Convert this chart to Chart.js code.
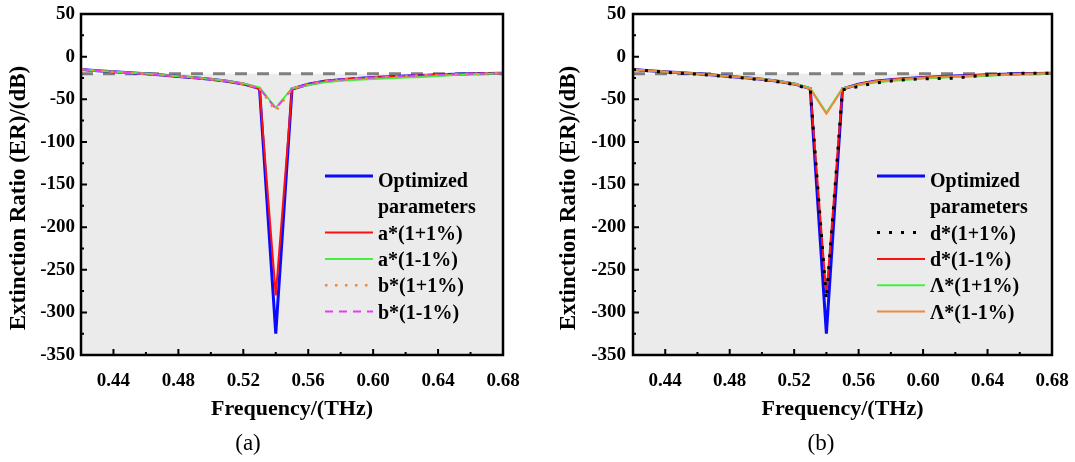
<!DOCTYPE html>
<html lang="en">
<head>
<meta charset="UTF-8">
<title>Extinction ratio tolerance</title>
<script src="https://cdn.jsdelivr.net/npm/chart.js@4.4.1/dist/chart.umd.min.js"></script>
<style>
  body { margin: 0; background: #fff; }
  #wrap { position: relative; width: 1075px; height: 462px; }
  canvas { position: absolute; top: 0; }
  #chartA { left: 0; }
  #chartB { left: 540px; }
</style>
</head>
<body>
<div id="wrap">
  <canvas id="chartA" width="540" height="462"></canvas>
  <canvas id="chartB" width="535" height="462"></canvas>
</div>
<script>
// frequency samples (THz)
const freq = [0.42, 0.43, 0.44, 0.45, 0.46, 0.47, 0.48, 0.49, 0.50, 0.51, 0.52, 0.53, 0.54,
              0.55, 0.56, 0.57, 0.58, 0.59, 0.60, 0.61, 0.62, 0.63, 0.64, 0.65, 0.66, 0.67, 0.68];

// ER (dB)
const optimized = [-15, -16.6, -17.8, -19.0, -20.1, -21.6, -23.2, -24.9, -26.6, -29.0, -32.0, -37.6, -325,
                   -38.0, -32.5, -29.0, -27.0, -25.8, -24.6, -23.7, -22.8, -22.0, -21.4, -20.8, -20.2, -19.8, -19.5];
// panel (a)
const aPlus  = [-15, -16.6, -17.8, -19.0, -20.1, -21.6, -23.2, -24.9, -26.6, -29.0, -32.0, -37.8, -280,
                -38.2, -32.5, -29.0, -27.0, -25.8, -24.6, -23.7, -22.8, -22.0, -21.4, -20.8, -20.2, -19.8, -19.5];
const aMinus = [-15, -16.5, -17.6, -18.8, -19.9, -21.3, -22.9, -24.5, -26.3, -28.5, -31.4, -36.0, -60,
                -37.0, -33.5, -30.2, -28.4, -27.2, -26.2, -25.4, -24.6, -23.8, -22.6, -21.6, -20.8, -20.2, -19.7];
const bPlus  = [-15, -16.6, -17.8, -19.0, -20.1, -21.6, -23.2, -24.9, -26.6, -29.0, -32.0, -37.0, -64,
                -37.5, -32.5, -29.0, -27.0, -25.8, -24.6, -23.7, -22.8, -22.0, -21.4, -20.8, -20.2, -19.8, -19.5];
const bMinus = [-15, -16.6, -17.8, -19.0, -20.1, -21.6, -23.2, -24.9, -26.6, -29.0, -32.0, -37.5, -61,
                -38.0, -32.5, -29.0, -27.0, -25.8, -24.6, -23.7, -22.8, -22.0, -21.4, -20.8, -20.2, -19.8, -19.5];
// panel (b)
const dPlus  = [-15.2, -16.8, -18.2, -19.6, -20.6, -22.2, -23.6, -25.4, -27.2, -29.6, -32.6, -38.5, -285,
                -39.0, -35.0, -31.0, -28.6, -27.0, -26.0, -25.6, -25.2, -23.2, -21.6, -20.6, -19.6, -19.4, -19.6];
const dMinus = [-15, -16.6, -17.8, -19.0, -20.1, -21.6, -23.2, -24.9, -26.6, -29.0, -32.0, -37.8, -280,
                -38.2, -32.5, -29.0, -27.0, -25.8, -24.6, -23.7, -22.8, -22.0, -21.4, -20.8, -20.2, -19.8, -19.5];
const lPlus  = [-15, -16.5, -17.7, -18.9, -20.0, -21.5, -23.0, -24.6, -26.3, -28.5, -31.5, -37.0, -66,
                -37.0, -33.5, -30.5, -28.5, -27.0, -25.8, -24.9, -24.0, -23.2, -22.4, -21.6, -20.9, -20.3, -19.8];
const lMinus = [-15, -16.6, -17.8, -19.0, -20.1, -21.6, -23.2, -24.9, -26.6, -29.0, -32.0, -37.8, -67,
                -37.8, -32.8, -29.3, -27.3, -26.0, -24.9, -24.0, -23.1, -22.3, -21.6, -21.0, -20.4, -19.9, -19.6];

const threshold = -20;
const xTicks = [0.44, 0.48, 0.52, 0.56, 0.60, 0.64, 0.68];
const yTicks = [50, 0, -50, -100, -150, -200, -250, -300, -350];

Chart.defaults.font.family = "'Liberation Serif', 'Times New Roman', serif";
Chart.defaults.color = '#000';

const pts = vals => freq.map((f, i) => ({x: f, y: vals[i]}));

function line(label, vals, color, width, dash, order) {
  return {label: label, data: pts(vals), borderColor: color, borderWidth: width,
          borderDash: dash, order: order, fill: false, pointRadius: 0, tension: 0};
}

// frame, inner ticks, legend, y title and panel letter
const decor = {
  id: 'decor',
  afterDatasetsDraw(chart, args, opts) {
    const {ctx, chartArea: a, scales: {x, y}} = chart;
    ctx.save();
    ctx.strokeStyle = '#000';
    ctx.lineWidth = 2;
    ctx.beginPath();
    for (let k = 44; k <= 66; k += 2) {
      const px = x.getPixelForValue(k / 100);
      const len = k % 4 === 0 ? 6 : 3;
      ctx.moveTo(px, a.bottom); ctx.lineTo(px, a.bottom - len);
    }
    for (let v = -325; v <= 25; v += 25) {
      const py = y.getPixelForValue(v);
      const len = v % 50 === 0 ? 6 : 3;
      ctx.moveTo(a.left, py); ctx.lineTo(a.left + len, py);
    }
    ctx.stroke();
    ctx.lineWidth = 2.5;
    ctx.strokeRect(a.left, a.top, a.right - a.left, a.bottom - a.top);

    // legend
    const lx = a.left + 244, tx = a.left + 297;
    let ty = a.top + 168;
    ctx.font = "bold 20px 'Liberation Serif'";
    ctx.textAlign = 'left';
    ctx.textBaseline = 'middle';
    ctx.fillStyle = '#000';
    chart.data.datasets.filter(ds => ds.inLegend !== false).forEach(ds => {
      const rows = Array.isArray(ds.label) ? ds.label : [ds.label];
      const ly = rows.length > 1 ? ty - 6 : ty - 2;
      ctx.setLineDash(ds.borderDash || []);
      ctx.lineWidth = ds.borderWidth;
      ctx.strokeStyle = ds.borderColor;
      ctx.beginPath(); ctx.moveTo(lx, ly); ctx.lineTo(lx + 48, ly); ctx.stroke();
      rows.forEach(r => { ctx.fillText(r, tx, ty); ty += 26.3; });
    });
    ctx.setLineDash([]);

    // y axis title
    ctx.save();
    ctx.translate(opts.yTitleX, 198);
    ctx.rotate(-Math.PI / 2);
    ctx.textAlign = 'center';
    ctx.font = "bold 23px 'Liberation Serif'";
    ctx.fillText('Extinction Ratio (ER)/(dB)', 0, 0);
    ctx.restore();

    ctx.font = "23px 'Liberation Serif'";
    ctx.textAlign = 'center';
    ctx.fillText(opts.panel, opts.panelX, 444);
    ctx.restore();
  }
};

function makeChart(id, datasets, cfg) {
  const canvas = document.getElementById(id);
  const all = [{
    label: 'threshold', inLegend: false,
    data: [{x: freq[0], y: threshold}, {x: freq[freq.length - 1], y: threshold}],
    borderColor: '#7f7f7f', borderWidth: 3, borderDash: [12, 10],
    fill: 'start', backgroundColor: '#ebebeb', pointRadius: 0, order: 10
  }].concat(datasets);
  return new Chart(canvas, {
    type: 'line',
    data: {datasets: all},
    plugins: [decor],
    options: {
      responsive: false, animation: false, devicePixelRatio: 1,
      layout: {padding: {left: 0, right: canvas.width - cfg.right, top: 14, bottom: 0}},
      plugins: {
        legend: {display: false}, tooltip: {enabled: false},
        decor: {panel: cfg.panel, panelX: cfg.panelX, yTitleX: cfg.yTitleX}
      },
      scales: {
        x: {
          type: 'linear', min: 0.42, max: 0.68,
          afterBuildTicks: s => { s.ticks = xTicks.map(v => ({value: v})); },
          afterFit: s => { s.height = 107; s.paddingLeft = 0; s.paddingRight = 0; },
          grid: {display: false, drawTicks: false},
          border: {display: false},
          ticks: {padding: 15, autoSkip: false, maxRotation: 0,
                  font: {size: 19, weight: 'bold'}, callback: v => Number(v).toFixed(2)},
          title: {display: true, text: 'Frequency/(THz)', font: {size: 22, weight: 'bold'},
                  padding: {top: 0, bottom: 39}}
        },
        y: {
          min: -350, max: 50,
          afterBuildTicks: s => { s.ticks = yTicks.map(v => ({value: v})); },
          afterFit: s => { s.width = cfg.left; s.paddingTop = 0; s.paddingBottom = 0; },
          grid: {display: false, drawTicks: false},
          border: {display: false},
          ticks: {padding: cfg.tickPad, font: {size: 19, weight: 'bold'}}
        }
      }
    }
  });
}

makeChart('chartA', [
  line(['Optimized', 'parameters'], optimized, '#0a0aff', 3, [], 6),
  line('a*(1+1%)', aPlus, '#ff1010', 2, [], 5),
  line('a*(1-1%)', aMinus, '#44ee44', 2, [], 4),
  line('b*(1+1%)', bPlus, '#f0883c', 2.5, [2.5, 7.5], 2),
  line('b*(1-1%)', bMinus, '#e040f0', 2, [8, 6], 3)
], {left: 81, right: 503, tickPad: 6, yTitleX: 19, panel: '(a)', panelX: 248});

makeChart('chartB', [
  line(['Optimized', 'parameters'], optimized, '#0a0aff', 3, [], 6),
  line('d*(1+1%)', dPlus, '#000000', 3, [3, 9], 1),
  line('d*(1-1%)', dMinus, '#ff1010', 2, [], 5),
  line('\u039b*(1+1%)', lPlus, '#44ee44', 2, [], 3),
  line('\u039b*(1-1%)', lMinus, '#f0883c', 2, [], 2)
], {left: 93, right: 512, tickPad: 7, yTitleX: 29, panel: '(b)', panelX: 281});
</script>
</body>
</html>
